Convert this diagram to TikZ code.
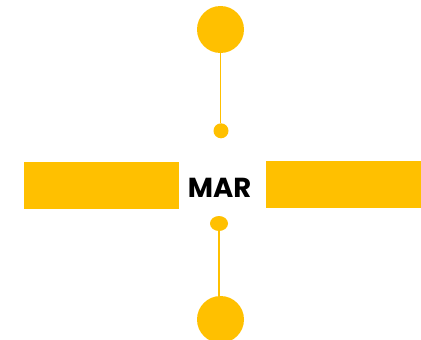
\documentclass[tikz,border=0pt]{standalone}
\usepackage{fontspec}
\usetikzlibrary{shapes.geometric}
\newfontfamily\popp{Poppins}
\definecolor{gold}{HTML}{FFC000}
\begin{document}
\begin{tikzpicture}[x=1pt,y=-1pt,
  bar/.style={fill=gold,draw=none,inner sep=0pt,minimum width=155pt,minimum height=47pt},
  dot/.style={circle,fill=gold,draw=none,inner sep=0pt},
  stem/.style={draw=gold,line width=1.5pt}]
\useasboundingbox (0,0) rectangle (421,340);
\node[bar] (lbar) at (101.5,185.5) {};
\node[bar] (rbar) at (343.5,184.5) {};
\node (label) at (219.5,188) {\popp\bfseries\fontsize{27.5}{30}\selectfont MAR};
\node[dot,minimum size=47pt] (tbig) at (220.5,29.5) {};
\node[dot,minimum size=15pt] (tsmall) at (221,130.8) {};
\draw[stem] (tbig.south) -- (tbig.south |- tsmall.north);
\node[ellipse,fill=gold,inner sep=0pt,minimum width=18pt,minimum height=15pt] (bsmall) at (219,223.5) {};
\node[dot,minimum size=47pt] (bbig) at (220.5,319.5) {};
\draw[stem] (bsmall.south) -- (bsmall.south |- bbig.north);
\end{tikzpicture}
\end{document}
